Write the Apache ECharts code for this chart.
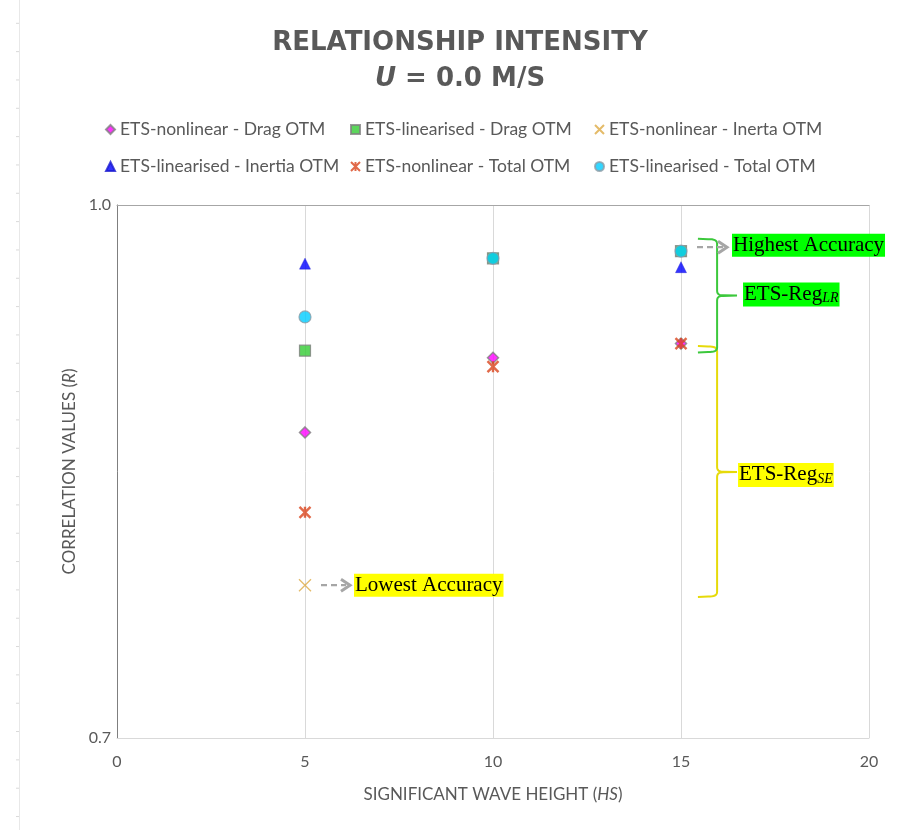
<!DOCTYPE html>
<html>
<head>
<meta charset="utf-8">
<script src="https://cdn.jsdelivr.net/npm/echarts@6/dist/echarts.min.js"></script>
<style>
  html, body { margin: 0; padding: 0; background: #ffffff; }
  #chart { width: 899px; height: 830px; }
</style>
</head>
<body>
<div id="chart"></div>
<script>
// Significant wave heights (Hs) at which each regression was evaluated
const waveHeights = [5, 10, 15];

// Correlation values (R) per method and overturning-moment component
const nonlinearDrag     = [0.872, 0.914, 0.922];
const linearisedDrag    = [0.918, 0.970, 0.974];
const nonlinearInertia  = [0.786, null, null];
const linearisedInertia = [0.967, null, 0.965];
const nonlinearTotal    = [0.827, 0.909, 0.922];
const linearisedTotal   = [0.937, 0.970, 0.974];

const seriesNames = [
  'ETS-nonlinear - Drag OTM',
  'ETS-linearised - Drag OTM',
  'ETS-nonlinear - Inerta OTM',
  'ETS-linearised - Inertia OTM',
  'ETS-nonlinear - Total OTM',
  'ETS-linearised - Total OTM'
];

const xTicks = [0, 5, 10, 15, 20];
const yTicks = [0.7, 1.0];

// Annotation anchors, in data units
const lowestPoint  = [5, 0.786];
const highestPoint = [15, 0.974];
const braceLR = { top: 0.981, mid: 0.949, bottom: 0.917 };
const braceSE = { top: 0.9206, mid: 0.8497, bottom: 0.7794 };
const braceX  = { hook: 15.45, spine: 15.96, tip: 16.49 };

const GREY_TEXT = '#595959';
const UI_FONT = 'Lato';

const valueSets = [nonlinearDrag, linearisedDrag, nonlinearInertia,
                   linearisedInertia, nonlinearTotal, linearisedTotal];
const pairs = vals => waveHeights.map((h, i) => [h, vals[i]]).filter(p => p[1] != null);

const markerStyles = [
  { symbol: 'diamond', symbolSize: 11, itemStyle: { color: '#FF00FF', borderColor: '#7F7F7F', borderWidth: 1.5 } },
  { symbol: 'rect', symbolSize: 11, itemStyle: { color: '#33CC33', borderColor: '#7F7F7F', borderWidth: 1.2 } },
  { symbol: 'path://M0,0L10,10M10,0L0,10', symbolSize: 12, itemStyle: { color: 'rgba(0,0,0,0)', borderColor: '#DDAA44', borderWidth: 1.3 } },
  { symbol: 'triangle', symbolSize: 11, itemStyle: { color: '#0000FF', borderColor: '#1A1AD0', borderWidth: 0.5 } },
  { symbol: 'path://M0,0L10,10M10,0L0,10M5,0L5,10', symbolSize: 11, itemStyle: { color: 'rgba(0,0,0,0)', borderColor: '#D9441C', borderWidth: 2.4 } },
  { symbol: 'circle', symbolSize: 12, itemStyle: { color: '#00CCFF', borderColor: '#8C9CA6', borderWidth: 1.2 } }
];

const series = seriesNames.map((name, i) => Object.assign({
  name: name,
  type: 'scatter',
  data: pairs(valueSets[i]),
  emphasis: { disabled: true },
  z: 3 + i
}, markerStyles[i]));

// Legend laid out as a 3 x 2 grid of single-item legends
const legendCols = [105, 350, 594];
const legendRows = [120, 157];
const legends = seriesNames.map((name, i) => ({
  data: [name],
  left: legendCols[i % 3],
  top: legendRows[Math.floor(i / 3)],
  padding: 0,
  itemWidth: 9,
  itemHeight: 9,
  itemGap: 0,
  selectedMode: false,
  textStyle: { color: GREY_TEXT, fontFamily: UI_FONT, fontSize: 17.5, lineHeight: 19, padding: [0, 0, 0, 0] }
}));

const chart = echarts.init(document.getElementById('chart'), null, { renderer: 'canvas' });

chart.setOption({
  backgroundColor: '#ffffff',
  animation: false,
  legend: legends,
  grid: { left: 117, right: 30, top: 205, bottom: 92, containLabel: false },
  xAxis: [
    {
      type: 'value', position: 'bottom',
      min: xTicks[0], max: xTicks[xTicks.length - 1], interval: xTicks[1] - xTicks[0],
      axisLine: { show: true, lineStyle: { color: '#D9D9D9', width: 1 } },
      axisTick: { show: false },
      axisLabel: { color: GREY_TEXT, fontFamily: UI_FONT, fontSize: 16, margin: 16 },
      splitLine: { show: true, lineStyle: { color: '#D9D9D9', width: 1 } },
      name: 'SIGNIFICANT WAVE HEIGHT ({i|HS})',
      nameLocation: 'middle', nameGap: 48,
      nameTextStyle: {
        color: GREY_TEXT, fontFamily: UI_FONT, fontSize: 17,
        rich: { i: { fontStyle: 'italic', color: GREY_TEXT, fontFamily: UI_FONT, fontSize: 17 } }
      }
    },
    {
      type: 'value', position: 'top',
      min: xTicks[0], max: xTicks[xTicks.length - 1],
      axisLine: { show: true, lineStyle: { color: '#A6A6A6', width: 1 } },
      axisTick: { show: false }, axisLabel: { show: false }, splitLine: { show: false }
    }
  ],
  yAxis: [
    {
      type: 'value', position: 'left',
      min: yTicks[0], max: yTicks[yTicks.length - 1], interval: yTicks[1] - yTicks[0],
      axisLine: { show: true, lineStyle: { color: '#D9D9D9', width: 1 } },
      axisTick: { show: false },
      axisLabel: { color: GREY_TEXT, fontFamily: UI_FONT, fontSize: 16, margin: 6, formatter: v => v.toFixed(1) },
      splitLine: { show: false },
      name: 'CORRELATION VALUES ({i|R})',
      nameLocation: 'middle', nameGap: 35, nameRotate: 90,
      nameTextStyle: {
        color: GREY_TEXT, fontFamily: UI_FONT, fontSize: 17,
        rich: { i: { fontStyle: 'italic', color: GREY_TEXT, fontFamily: UI_FONT, fontSize: 17 } }
      }
    },
    {
      type: 'value', position: 'right',
      min: yTicks[0], max: yTicks[yTicks.length - 1],
      axisLine: { show: true, lineStyle: { color: '#7F7F7F', width: 1 } },
      axisTick: { show: false }, axisLabel: { show: false }, splitLine: { show: false }
    }
  ],
  series: series
});

// ---- Annotations placed through the axes' own scales ----
const px = p => chart.convertToPixel({ xAxisIndex: 0, yAxisIndex: 0 }, p);

// quadratic curve sampled into points
function quad(p0, c, p1, n) {
  const pts = [];
  for (let k = 1; k <= n; k++) {
    const t = k / n, u = 1 - t;
    pts.push([u * u * p0[0] + 2 * u * t * c[0] + t * t * p1[0],
              u * u * p0[1] + 2 * u * t * c[1] + t * t * p1[1]]);
  }
  return pts;
}

function bracePoints(b) {
  const h = px([braceX.hook, b.top])[0];
  const s = px([braceX.spine, b.top])[0];
  const t = px([braceX.tip, b.top])[0];
  const yt = px([0, b.top])[1], ym = px([0, b.mid])[1], yb = px([0, b.bottom])[1];
  const r = 5;
  let pts = [[h, yt], [s - r - 4, yt + 0.5]];
  pts = pts.concat(quad([s - r - 4, yt + 0.5], [s, yt], [s, yt + r], 8));
  pts.push([s, ym - r]);
  pts = pts.concat(quad([s, ym - r], [s, ym], [s + 6, ym - 0.3], 6));
  pts.push([t, ym]);
  pts.push([s + 6, ym + 0.3]);
  pts = pts.concat(quad([s + 6, ym + 0.3], [s, ym], [s, ym + r], 6));
  pts.push([s, yb - r]);
  pts = pts.concat(quad([s, yb - r], [s, yb], [s - r - 4, yb - 0.5], 8));
  pts.push([h, yb]);
  return pts;
}

function arrow(x0, x1, y) {
  return [
    { type: 'line', z: 12, shape: { x1: x0, y1: y, x2: x1 - 4, y2: y },
      style: { stroke: '#A6A6A6', lineWidth: 2.2, lineDash: [6, 4] } },
    { type: 'polyline', z: 12, shape: { points: [[x1 - 9, y - 6], [x1, y], [x1 - 9, y + 6]] },
      style: { stroke: '#A6A6A6', lineWidth: 3, fill: null } }
  ];
}

function noteText(x, y, text, bg, rich) {
  return {
    type: 'text', x: x, y: y, z: 20,
    style: {
      text: text, align: 'left', verticalAlign: 'middle',
      fontFamily: 'Liberation Serif', fontSize: 21, fill: '#000000',
      backgroundColor: bg, padding: [1, 1, 1, 1], rich: rich || {}
    }
  };
}

const subRich = {
  m: { fontFamily: 'Liberation Serif', fontSize: 21, fill: '#000000', lineHeight: 22, verticalAlign: 'top' },
  s: { fontFamily: 'Liberation Serif', fontSize: 14, fontStyle: 'italic', fill: '#000000', lineHeight: 10, verticalAlign: 'bottom' }
};

// light page ruler along the left edge
const rulerTicks = [];
for (let y = 23.3; y < 830; y += 28.33) {
  rulerTicks.push({ type: 'line', shape: { x1: 16, y1: y, x2: 19, y2: y }, style: { stroke: '#D9D9D9', lineWidth: 1 } });
}

const low = px(lowestPoint);
const high = px(highestPoint);

const graphics = [
  { type: 'line', shape: { x1: 19.5, y1: 0, x2: 19.5, y2: 830 }, style: { stroke: '#E8E8E8', lineWidth: 1 } },
  ...rulerTicks,
  {
    type: 'text', x: 460, y: 43,
    style: { text: 'RELATIONSHIP INTENSITY', align: 'center', verticalAlign: 'middle',
             fontFamily: 'DejaVu Sans', fontWeight: 'bold', fontSize: 26, fill: GREY_TEXT }
  },
  {
    type: 'text', x: 460, y: 79,
    style: {
      text: '{i|U}{n| = 0.0 M/S}', align: 'center', verticalAlign: 'middle',
      fontFamily: 'DejaVu Sans', fontWeight: 'bold', fontSize: 26, fill: GREY_TEXT,
      rich: {
        i: { fontFamily: 'DejaVu Sans', fontWeight: 'bold', fontStyle: 'italic', fontSize: 26, fill: GREY_TEXT },
        n: { fontFamily: 'DejaVu Sans', fontWeight: 'bold', fontSize: 26, fill: GREY_TEXT }
      }
    }
  },
  { type: 'polyline', z: 10, shape: { points: bracePoints(braceSE) }, style: { stroke: '#E6DA0A', lineWidth: 2, fill: null } },
  { type: 'polyline', z: 11, shape: { points: bracePoints(braceLR) }, style: { stroke: '#3CC83C', lineWidth: 2, fill: null } },
  ...arrow(low[0] + 16, low[0] + 45, low[1]),
  noteText(low[0] + 49, low[1], 'Lowest Accuracy', '#FFFF00'),
  ...arrow(high[0] + 16, high[0] + 46, high[1] - 4),
  noteText(high[0] + 51, high[1] - 6, 'Highest Accuracy', '#00FF00'),
  noteText(px([braceX.tip, braceLR.mid])[0] + 6, px([0, braceLR.mid])[1] - 1, '{m|ETS-Reg}{s|LR}', '#00FF00', subRich),
  noteText(px([braceX.tip, braceSE.mid])[0] + 1, px([0, braceSE.mid])[1] + 3, '{m|ETS-Reg}{s|SE}', '#FFFF00', subRich)
];

chart.setOption({ graphic: graphics });
</script>
</body>
</html>
